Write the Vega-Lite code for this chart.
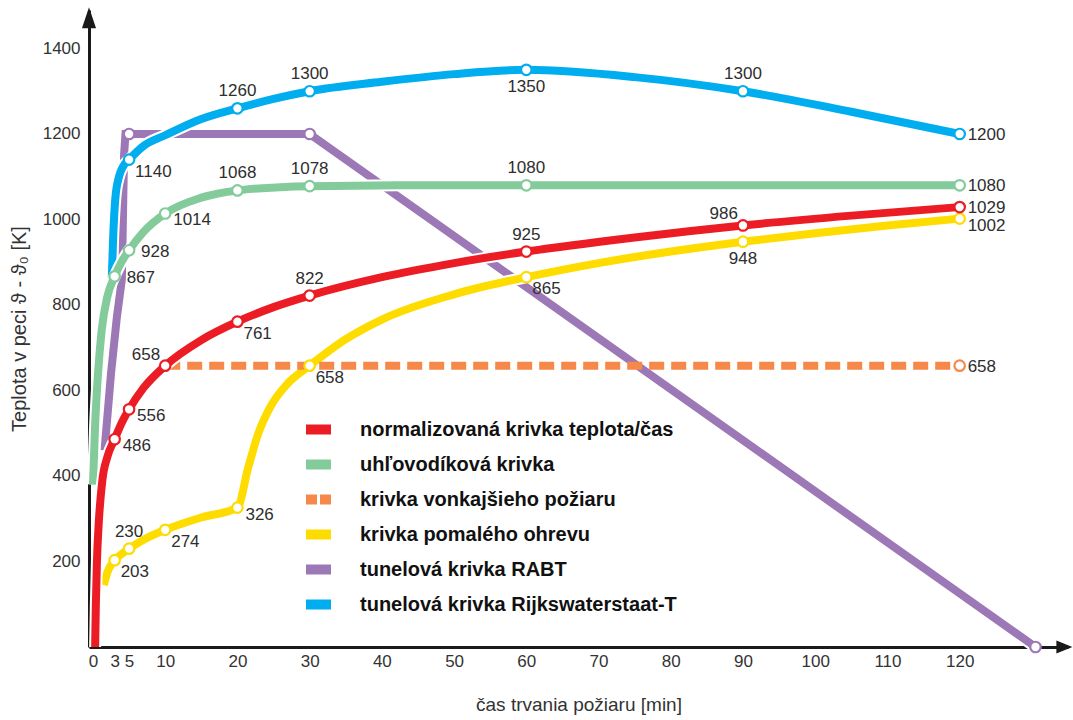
{
  "$schema": "https://vega.github.io/schema/vega-lite/v6.json",
  "width": 979,
  "height": 637,
  "autosize": {"type": "none"},
  "padding": {"left": 89, "top": 10, "right": 5, "bottom": 73},
  "background": "white",
  "config": {
    "view": {"stroke": null},
    "font": "Liberation Sans",
    "legend": {
      "orient": "none",
      "legendX": 205,
      "legendY": 395,
      "fillColor": "white",
      "padding": 7,
      "symbolType": "stroke",
      "symbolSize": 625,
      "symbolStrokeWidth": 2,
      "labelFontSize": 20,
      "labelFontWeight": "bold",
      "labelColor": "#111111",
      "labelOffset": 24,
      "labelLimit": 600,
      "clipHeight": 35,
      "rowPadding": 0
    }
  },
  "datasets": {
    "curves": [
      {"s": "P", "t": 1.6, "v": 460}, {"s": "P", "t": 2.5, "v": 640}, {"s": "P", "t": 3.3, "v": 770}, {"s": "P", "t": 4, "v": 860}, {"s": "P", "t": 4.3, "v": 1150}, {"s": "P", "t": 4.5, "v": 1200}, {"s": "P", "t": 5, "v": 1200}, {"s": "P", "t": 30, "v": 1200}, {"s": "P", "t": 130.5, "v": 0},
      {"s": "B", "t": 2.6, "v": 860}, {"s": "B", "t": 2.8, "v": 960}, {"s": "B", "t": 3.1, "v": 1050}, {"s": "B", "t": 3.6, "v": 1100}, {"s": "B", "t": 4.2, "v": 1125}, {"s": "B", "t": 5, "v": 1140}, {"s": "B", "t": 7, "v": 1172}, {"s": "B", "t": 10, "v": 1197}, {"s": "B", "t": 15, "v": 1235}, {"s": "B", "t": 20, "v": 1260}, {"s": "B", "t": 25, "v": 1282}, {"s": "B", "t": 30, "v": 1300}, {"s": "B", "t": 40, "v": 1322}, {"s": "B", "t": 50, "v": 1340}, {"s": "B", "t": 60, "v": 1350}, {"s": "B", "t": 75, "v": 1333}, {"s": "B", "t": 90, "v": 1300}, {"s": "B", "t": 105, "v": 1252}, {"s": "B", "t": 120, "v": 1200},
      {"s": "G", "t": 0, "v": 380}, {"s": "G", "t": 0.3, "v": 520}, {"s": "G", "t": 0.7, "v": 640}, {"s": "G", "t": 1.2, "v": 740}, {"s": "G", "t": 2, "v": 820}, {"s": "G", "t": 3, "v": 867}, {"s": "G", "t": 4, "v": 902}, {"s": "G", "t": 5, "v": 928}, {"s": "G", "t": 7, "v": 971}, {"s": "G", "t": 10, "v": 1014}, {"s": "G", "t": 15, "v": 1051}, {"s": "G", "t": 20, "v": 1068}, {"s": "G", "t": 30, "v": 1078}, {"s": "G", "t": 45, "v": 1080}, {"s": "G", "t": 60, "v": 1080}, {"s": "G", "t": 90, "v": 1080}, {"s": "G", "t": 120, "v": 1080},
      {"s": "Y", "t": 1.5, "v": 145}, {"s": "Y", "t": 2, "v": 175}, {"s": "Y", "t": 3, "v": 203}, {"s": "Y", "t": 4, "v": 218}, {"s": "Y", "t": 5, "v": 230}, {"s": "Y", "t": 7, "v": 251}, {"s": "Y", "t": 10, "v": 274}, {"s": "Y", "t": 15, "v": 303}, {"s": "Y", "t": 20, "v": 326}, {"s": "Y", "t": 21.5, "v": 420}, {"s": "Y", "t": 22.9, "v": 500}, {"s": "Y", "t": 24.5, "v": 560}, {"s": "Y", "t": 27, "v": 617}, {"s": "Y", "t": 30, "v": 658}, {"s": "Y", "t": 35, "v": 720}, {"s": "Y", "t": 40, "v": 766}, {"s": "Y", "t": 50, "v": 825}, {"s": "Y", "t": 60, "v": 865}, {"s": "Y", "t": 70, "v": 898}, {"s": "Y", "t": 80, "v": 925}, {"s": "Y", "t": 90, "v": 948}, {"s": "Y", "t": 100, "v": 968}, {"s": "Y", "t": 110, "v": 986}, {"s": "Y", "t": 120, "v": 1002},
      {"s": "O", "t": 10, "v": 658}, {"s": "O", "t": 120, "v": 658},
      {"s": "R", "t": 0.3, "v": 0}, {"s": "R", "t": 0.4, "v": 100}, {"s": "R", "t": 0.55, "v": 200}, {"s": "R", "t": 0.8, "v": 290}, {"s": "R", "t": 1.3, "v": 390}, {"s": "R", "t": 2, "v": 445}, {"s": "R", "t": 3, "v": 486}, {"s": "R", "t": 4, "v": 525}, {"s": "R", "t": 5, "v": 556}, {"s": "R", "t": 7, "v": 606}, {"s": "R", "t": 10, "v": 658}, {"s": "R", "t": 15, "v": 718}, {"s": "R", "t": 20, "v": 761}, {"s": "R", "t": 25, "v": 795}, {"s": "R", "t": 30, "v": 822}, {"s": "R", "t": 40, "v": 865}, {"s": "R", "t": 50, "v": 898}, {"s": "R", "t": 60, "v": 925}, {"s": "R", "t": 75, "v": 958}, {"s": "R", "t": 90, "v": 986}, {"s": "R", "t": 105, "v": 1009}, {"s": "R", "t": 120, "v": 1029}
    ],
    "markers": [
      {"s": "P", "t": 5, "v": 1200}, {"s": "P", "t": 30, "v": 1200}, {"s": "P", "t": 130.5, "v": 0},
      {"s": "B", "t": 5, "v": 1140}, {"s": "B", "t": 20, "v": 1260}, {"s": "B", "t": 30, "v": 1300}, {"s": "B", "t": 60, "v": 1350}, {"s": "B", "t": 90, "v": 1300}, {"s": "B", "t": 120, "v": 1200},
      {"s": "G", "t": 3, "v": 867}, {"s": "G", "t": 5, "v": 928}, {"s": "G", "t": 10, "v": 1014}, {"s": "G", "t": 20, "v": 1068}, {"s": "G", "t": 30, "v": 1078}, {"s": "G", "t": 60, "v": 1080}, {"s": "G", "t": 120, "v": 1080},
      {"s": "Y", "t": 3, "v": 203}, {"s": "Y", "t": 5, "v": 230}, {"s": "Y", "t": 10, "v": 274}, {"s": "Y", "t": 20, "v": 326}, {"s": "Y", "t": 30, "v": 658}, {"s": "Y", "t": 60, "v": 865}, {"s": "Y", "t": 90, "v": 948}, {"s": "Y", "t": 120, "v": 1002},
      {"s": "O", "t": 120, "v": 658},
      {"s": "R", "t": 3, "v": 486}, {"s": "R", "t": 5, "v": 556}, {"s": "R", "t": 10, "v": 658}, {"s": "R", "t": 20, "v": 761}, {"s": "R", "t": 30, "v": 822}, {"s": "R", "t": 60, "v": 925}, {"s": "R", "t": 90, "v": 986}, {"s": "R", "t": 120, "v": 1029}
    ],
    "lab_above": [{"t": 20, "v": 1260}, {"t": 30, "v": 1300}, {"t": 90, "v": 1300}, {"t": 20, "v": 1068}, {"t": 30, "v": 1078}, {"t": 60, "v": 1080}, {"t": 30, "v": 822}, {"t": 60, "v": 925}, {"t": 5, "v": 230}],
    "lab_below": [{"t": 60, "v": 1350}, {"t": 90, "v": 948}],
    "lab_right": [{"t": 120, "v": 1200}, {"t": 120, "v": 1080}, {"t": 120, "v": 1029}, {"t": 120, "v": 658}],
    "lab_right2": [{"t": 3, "v": 867}, {"t": 5, "v": 928}],
    "lab_br1": [{"t": 5, "v": 1140}, {"t": 20, "v": 761}, {"t": 3, "v": 203}, {"t": 10, "v": 274}, {"t": 30, "v": 658}, {"t": 60, "v": 865}],
    "lab_br2": [{"t": 10, "v": 1014}, {"t": 3, "v": 486}, {"t": 5, "v": 556}, {"t": 20, "v": 326}, {"t": 120, "v": 1002}],
    "lab_la": [{"t": 10, "v": 658}, {"t": 90, "v": 986}],
    "hgrid": [{"v": 200}, {"v": 400}, {"v": 600}, {"v": 800}, {"v": 1000}, {"v": 1200}, {"v": 1400}],
    "vgrid": [{"t": 3}, {"t": 5}, {"t": 10}, {"t": 20}, {"t": 30}, {"t": 40}, {"t": 50}, {"t": 60}, {"t": 70}, {"t": 80}, {"t": 90}, {"t": 100}, {"t": 110}, {"t": 120}],
    "brk": [{"t": 125.1, "t2": 125.95}],
    "brklines": [{"t": 125.1}, {"t": 125.95}],
    "arrowy": [{"t": -0.55, "v": 1472}],
    "arrowx": [{"t": 134.5, "v": 0}]
  },
  "encoding": {
    "x": {
      "field": "t", "type": "quantitative",
      "scale": {"domain": [-0.55, 135], "nice": false, "zero": false},
      "axis": {
        "values": [0, 3, 5, 10, 20, 30, 40, 50, 60, 70, 80, 90, 100, 110, 120],
        "format": "d",
        "title": "čas trvania požiaru [min]",
        "titleFontSize": 19, "titleFontWeight": "normal", "titleColor": "#333333", "titlePadding": 26,
        "labelFontSize": 17, "labelColor": "#333333", "labelPadding": 6,
        "ticks": false, "grid": false, "domainColor": "#1a1a1a", "domainWidth": 3,
        "labelOverlap": false, "labelFlush": false,
        "encode": {"labels": {"update": {"dx": {"signal": "datum.value === 0 ? -10 : 0"}}}}
      }
    },
    "y": {
      "field": "v", "type": "quantitative",
      "scale": {"domain": [0, 1490], "nice": false},
      "axis": {
        "values": [200, 400, 600, 800, 1000, 1200, 1400],
        "format": "d",
        "title": "Teplota v peci   ϑ - ϑ₀   [K]",
        "titleFontSize": 20, "titleFontWeight": "normal", "titleColor": "#333333", "titlePadding": 13,
        "labelFontSize": 17, "labelColor": "#333333", "labelPadding": 9,
        "ticks": false, "grid": false, "domainColor": "#1a1a1a", "domainWidth": 3
      }
    }
  },
  "layer": [
    {"data": {"name": "vgrid"}, "mark": {"type": "rule", "color": "#d2d2d2", "strokeWidth": 1.3}, "encoding": {"y": {"datum": 0}, "y2": {"datum": 1400}}},
    {"data": {"name": "hgrid"}, "mark": {"type": "rule", "color": "#d2d2d2", "strokeWidth": 1.3}, "encoding": {"x": {"datum": 0}, "x2": {"datum": 120}}},

    {"data": {"name": "curves"}, "transform": [{"filter": "datum.s === 'P'"}], "mark": {"type": "line", "color": "white", "strokeWidth": 12}, "encoding": {}},
    {"data": {"name": "curves"}, "transform": [{"filter": "datum.s === 'P'"}], "mark": {"type": "line", "strokeWidth": 8},
     "encoding": {"color": {"field": "s", "type": "nominal",
        "scale": {"domain": ["R", "G", "O", "Y", "P", "B"], "range": ["#ec1c24", "#83cb9b", "#f6894a", "#ffdc00", "#9d78b6", "#00adee"]},
        "legend": {"title": null,
          "labelExpr": "datum.value === 'R' ? 'normalizovaná krivka teplota/čas' : datum.value === 'G' ? 'uhľovodíková krivka' : datum.value === 'O' ? 'krivka vonkajšieho požiaru' : datum.value === 'Y' ? 'krivka pomalého ohrevu' : datum.value === 'P' ? 'tunelová krivka RABT' : 'tunelová krivka Rijkswaterstaat-T'",
          "encode": {"symbols": {"update": {"strokeDash": {"signal": "datum.value === 'O' ? [11, 3] : [1, 0]"}, "strokeWidth": {"value": 10}, "strokeCap": {"value": "butt"}}}}
        }}}},

    {"data": {"name": "curves"}, "transform": [{"filter": "datum.s === 'B'"}], "mark": {"type": "line", "color": "white", "strokeWidth": 12, "interpolate": "monotone"}, "encoding": {}},
    {"data": {"name": "curves"}, "transform": [{"filter": "datum.s === 'B'"}], "mark": {"type": "line", "strokeWidth": 8, "interpolate": "monotone"}, "encoding": {"color": {"field": "s", "type": "nominal"}}},

    {"data": {"name": "curves"}, "transform": [{"filter": "datum.s === 'G'"}], "mark": {"type": "line", "color": "white", "strokeWidth": 12, "interpolate": "monotone"}, "encoding": {}},
    {"data": {"name": "curves"}, "transform": [{"filter": "datum.s === 'G'"}], "mark": {"type": "line", "strokeWidth": 8, "interpolate": "monotone"}, "encoding": {"color": {"field": "s", "type": "nominal"}}},

    {"data": {"name": "curves"}, "transform": [{"filter": "datum.s === 'Y'"}], "mark": {"type": "line", "color": "white", "strokeWidth": 12, "interpolate": "monotone"}, "encoding": {}},
    {"data": {"name": "curves"}, "transform": [{"filter": "datum.s === 'Y'"}], "mark": {"type": "line", "strokeWidth": 8, "interpolate": "monotone"}, "encoding": {"color": {"field": "s", "type": "nominal"}}},

    {"data": {"name": "curves"}, "transform": [{"filter": "datum.s === 'O'"}], "mark": {"type": "line", "strokeWidth": 8, "strokeDash": [15, 7]}, "encoding": {"color": {"field": "s", "type": "nominal"}}},

    {"data": {"name": "curves"}, "transform": [{"filter": "datum.s === 'R'"}], "mark": {"type": "line", "color": "white", "strokeWidth": 12, "interpolate": "monotone"}, "encoding": {}},
    {"data": {"name": "curves"}, "transform": [{"filter": "datum.s === 'R'"}], "mark": {"type": "line", "strokeWidth": 8, "interpolate": "monotone"}, "encoding": {"color": {"field": "s", "type": "nominal"}}},

    {"data": {"name": "brk"}, "mark": {"type": "rect", "color": "white"}, "encoding": {"x2": {"field": "t2"}, "y": {"datum": -54}, "y2": {"datum": 126}}},
    {"data": {"name": "brklines"}, "mark": {"type": "rule", "color": "#b5b5b5", "strokeWidth": 1.2}, "encoding": {"y": {"datum": -54}, "y2": {"datum": 126}}},

    {"data": {"name": "markers"}, "mark": {"type": "point", "shape": "circle", "size": 110, "fill": "white", "fillOpacity": 1, "opacity": 1, "strokeWidth": 2.2},
     "encoding": {"stroke": {"field": "s", "type": "nominal", "legend": null,
        "scale": {"domain": ["R", "G", "O", "Y", "P", "B"], "range": ["#ec1c24", "#83cb9b", "#f6894a", "#ffdc00", "#9d78b6", "#00adee"]}}}},

    {"data": {"name": "lab_above"}, "mark": {"type": "text", "dy": -17, "align": "center", "baseline": "middle", "fontSize": 17, "fill": "#2e2e2e"}, "encoding": {"text": {"field": "v", "type": "quantitative", "format": "d"}}},
    {"data": {"name": "lab_below"}, "mark": {"type": "text", "dy": 17, "align": "center", "baseline": "middle", "fontSize": 17, "fill": "#2e2e2e"}, "encoding": {"text": {"field": "v", "type": "quantitative", "format": "d"}}},
    {"data": {"name": "lab_right"}, "mark": {"type": "text", "dx": 8, "dy": 1, "align": "left", "baseline": "middle", "fontSize": 17, "fill": "#2e2e2e"}, "encoding": {"text": {"field": "v", "type": "quantitative", "format": "d"}}},
    {"data": {"name": "lab_right2"}, "mark": {"type": "text", "dx": 12, "dy": 2, "align": "left", "baseline": "middle", "fontSize": 17, "fill": "#2e2e2e"}, "encoding": {"text": {"field": "v", "type": "quantitative", "format": "d"}}},
    {"data": {"name": "lab_br1"}, "mark": {"type": "text", "dx": 6, "dy": 12, "align": "left", "baseline": "middle", "fontSize": 17, "fill": "#2e2e2e"}, "encoding": {"text": {"field": "v", "type": "quantitative", "format": "d"}}},
    {"data": {"name": "lab_br2"}, "mark": {"type": "text", "dx": 8, "dy": 7, "align": "left", "baseline": "middle", "fontSize": 17, "fill": "#2e2e2e"}, "encoding": {"text": {"field": "v", "type": "quantitative", "format": "d"}}},
    {"data": {"name": "lab_la"}, "mark": {"type": "text", "dx": -5, "dy": -11, "align": "right", "baseline": "middle", "fontSize": 17, "fill": "#2e2e2e"}, "encoding": {"text": {"field": "v", "type": "quantitative", "format": "d"}}},

    {"data": {"name": "arrowy"}, "mark": {"type": "point", "shape": "M0,-1L0.67,1L-0.67,1Z", "size": 441, "filled": true, "color": "#1a1a1a", "opacity": 1}, "encoding": {}},
    {"data": {"name": "arrowx"}, "mark": {"type": "point", "shape": "M1,0L-1,0.8L-1,-0.8Z", "size": 256, "filled": true, "color": "#1a1a1a", "opacity": 1}, "encoding": {}}
  ]
}
